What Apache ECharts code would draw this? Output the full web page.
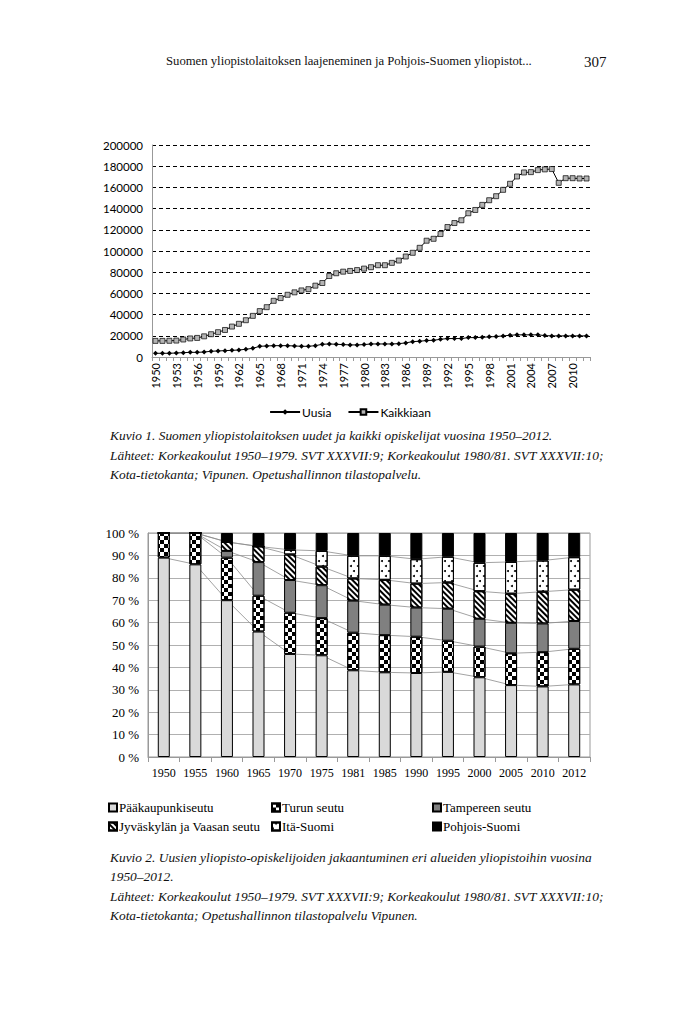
<!DOCTYPE html>
<html><head><meta charset="utf-8">
<script src="https://cdn.jsdelivr.net/npm/echarts@6/dist/echarts.min.js"></script>
<style>html,body{margin:0;padding:0;background:#fff}#c{width:700px;height:1014px}</style>
</head><body><div id="c"></div>
<script>
// ---- Kuvio 1 data ----
const years1 = ['1950','1951','1952','1953','1954','1955','1956','1957','1958','1959',
'1960','1961','1962','1963','1964','1965','1966','1967','1968','1969',
'1970','1971','1972','1973','1974','1975','1976','1977','1978','1979',
'1980','1981','1982','1983','1984','1985','1986','1987','1988','1989',
'1990','1991','1992','1993','1994','1995','1996','1997','1998','1999',
'2000','2001','2002','2003','2004','2005','2006','2007','2008','2009',
'2010','2011','2012'];
const uusia = [3500,3500,3500,3800,4100,4400,4400,4700,5400,5700,
6000,6300,6600,7300,8200,10100,10400,10700,10700,10700,
10400,10100,10100,10700,12000,12300,12000,11700,11400,11400,
11700,12300,12300,12300,12300,12600,13300,14500,14900,15500,
15800,16700,17400,17400,17400,18300,18300,18600,19000,19300,
19900,20500,20900,20900,20900,20900,20200,19900,19900,19900,
19900,19900,19900];
const kaikkiaan = [15200,15200,15300,15500,16500,17500,18000,19500,21500,23400,
25500,28700,31300,34700,38800,43300,47000,53000,55600,58700,
61000,62800,64000,67300,69800,76400,79000,80500,81200,82000,
83400,84700,86600,86600,88800,91000,94800,98300,103000,109700,
111500,116000,122600,126400,129000,135600,138700,143500,147900,151700,
157700,163400,170300,174100,174400,176300,177000,177300,164300,168700,
168700,168400,168400];

// ---- Kuvio 2 data (%) ----
const years2 = ['1950','1955','1960','1965','1970','1975','1981','1985','1990','1995','2000','2005','2010','2012'];
const paakaupunkiseutu = [89,86,70,56,46,45.4,38.7,37.8,37.5,38,35.6,32.1,31.5,32.4];
const turunSeutu      = [11,14,19,16,18.4,16.6,16.8,16.6,16.2,13.9,13.7,14.2,15.3,15.9];
const tampereenSeutu  = [0,0,3,15,14.6,14.7,14.3,13.6,13.0,14.3,12.4,13.6,12.8,12.4];
const jyvaskylaVaasa  = [0,0,4,7,11.4,8.3,9.9,11.1,10.7,11.7,12.3,13.0,14.2,14.0];
const itaSuomi        = [0,0,0,0,2.1,7,10.1,10.7,10.9,11.5,12.7,14.2,13.9,14.5];
const pohjoisSuomi    = [0,0,4,6,7.5,8,10.2,10.2,11.7,10.6,13.3,12.9,12.3,10.8];
const regionNames = ['Pääkaupunkiseutu','Turun seutu','Tampereen seutu','Jyväskylän ja Vaasan seutu','Itä-Suomi','Pohjois-Suomi'];
const yTicks2 = [0,10,20,30,40,50,60,70,80,90,100];

const SERIF = '"Liberation Serif", "Times New Roman", serif';
const SANS = 'Lato, "Open Sans", sans-serif';

const regionData = [paakaupunkiseutu, turunSeutu, tampereenSeutu, jyvaskylaVaasa, itaSuomi, pohjoisSuomi];
const regionStyles = [
  {color:'#d9d9d9'},
  {color:'#ffffff', decal:{symbol:'rect', symbolSize:1, color:'#000', dashArrayX:[[4,4],[0,4,4,0]], dashArrayY:[4,0]}},
  {color:'#808080'},
  {color:'#ffffff', decal:{symbol:'rect', symbolSize:1, color:'#000', rotation:Math.PI/4, dashArrayX:[1,0], dashArrayY:[1.5,1.5]}},
  {color:'#ffffff', decal:{symbol:'circle', symbolSize:1, color:'#000', dashArrayX:[[1.2,4.8],[0,3,1.2,1.8]], dashArrayY:[1.2,3]}},
  {color:'#000000'}
];

const series = [];
series.push({
  name:'Uusia', type:'line', xAxisIndex:0, yAxisIndex:0, data:uusia,
  symbol:'diamond', symbolSize:5, showAllSymbol:true,
  lineStyle:{color:'#000', width:1}, itemStyle:{color:'#000'}, silent:true
});
series.push({
  name:'Kaikkiaan', type:'line', xAxisIndex:0, yAxisIndex:0, data:kaikkiaan,
  symbol:'rect', symbolSize:5, showAllSymbol:true,
  lineStyle:{color:'#000', width:1}, itemStyle:{color:'#b4b4b4', borderColor:'#000', borderWidth:0.7}, silent:true
});
regionData.forEach((d,i)=>{
  series.push({
    name:regionNames[i], type:'bar', xAxisIndex:1, yAxisIndex:1, stack:'total', data:d,
    barWidth:12, z:3, silent:true,
    itemStyle:Object.assign({borderColor:'#000', borderWidth:1}, regionStyles[i])
  });
});
// Excel-style series lines between bars (cumulative boundaries)
for (let i=0;i<5;i++){
  series.push({
    name:'sarjaviiva'+i, type:'line', xAxisIndex:1, yAxisIndex:1, stack:'lines', data:regionData[i],
    symbol:'none', z:1, silent:true, lineStyle:{color:'#8c8c8c', width:0.8}
  });
}

const CAP = 'italic 13.4px '+SERIF;
const texts = [
  {t:'Suomen yliopistolaitoksen laajeneminen ja Pohjois-Suomen yliopistot...', x:166, y:62, f:'12.7px '+SERIF},
  {t:'307', x:584, y:62, f:'15px '+SERIF},
  {t:'Kuvio 1. Suomen yliopistolaitoksen uudet ja kaikki opiskelijat vuosina 1950–2012.', x:110, y:437, f:CAP},
  {t:'Lähteet: Korkeakoulut 1950–1979. SVT XXXVII:9; Korkeakoulut 1980/81. SVT XXXVII:10;', x:110, y:457, f:CAP},
  {t:'Kota-tietokanta; Vipunen. Opetushallinnon tilastopalvelu.', x:110, y:476, f:CAP},
  {t:'Kuvio 2. Uusien yliopisto-opiskelijoiden jakaantuminen eri alueiden yliopistoihin vuosina', x:110, y:859, f:CAP},
  {t:'1950–2012.', x:110, y:878, f:CAP},
  {t:'Lähteet: Korkeakoulut 1950–1979. SVT XXXVII:9; Korkeakoulut 1980/81. SVT XXXVII:10;', x:110, y:898, f:CAP},
  {t:'Kota-tietokanta; Opetushallinnon tilastopalvelu Vipunen.', x:110, y:917, f:CAP}
];

const legendBase = {
  orient:'vertical', itemWidth:8, itemHeight:8, itemGap:6, icon:'rect',
  textStyle:{fontFamily:SERIF, fontSize:13, color:'#000', padding:[0,0,0,-3]}, selectedMode:false
};

const option = {
  animation:false,
  backgroundColor:'#fff',
  graphic: texts.map(o=>({type:'text', left:o.x, top:o.y-8, style:{text:o.t, font:o.f, fill:'#111'}})),
  grid:[
    {left:152, right:110, top:145, height:212},
    {left:148, right:110, top:533, height:224, show:true, borderColor:'#999', borderWidth:1}
  ],
  legend:[
    {data:['Uusia','Kaikkiaan'], top:401, left:'center', itemWidth:30, itemHeight:7, itemGap:16, selectedMode:false,
     textStyle:{fontFamily:SANS, fontSize:12, color:'#000', padding:[0,0,0,-3]}},
    Object.assign({}, legendBase, {data:['Pääkaupunkiseutu','Jyväskylän ja Vaasan seutu'], left:103, top:796}),
    Object.assign({}, legendBase, {data:['Turun seutu','Itä-Suomi'], left:266, top:796}),
    Object.assign({}, legendBase, {data:['Tampereen seutu','Pohjois-Suomi'], left:427, top:796})
  ],
  xAxis:[
    {type:'category', gridIndex:0, data:years1, boundaryGap:true,
     axisLine:{lineStyle:{color:'#999'}},
     axisTick:{show:true, interval:0, length:4, lineStyle:{color:'#999'}},
     axisLabel:{interval:2, rotate:90, fontFamily:SANS, fontSize:11, color:'#000', margin:6}},
    {type:'category', gridIndex:1, data:years2, boundaryGap:true,
     axisLine:{lineStyle:{color:'#999'}},
     axisTick:{show:true, length:5, lineStyle:{color:'#999'}},
     axisLabel:{fontFamily:SERIF, fontSize:12, color:'#000', margin:10}}
  ],
  yAxis:[
    {type:'value', gridIndex:0, min:0, max:200000, interval:20000,
     axisLine:{show:true, lineStyle:{color:'#999'}}, axisTick:{show:false},
     splitLine:{lineStyle:{color:'#000', type:[4,3], width:1}},
     axisLabel:{fontFamily:SANS, fontSize:11.5, color:'#000', margin:9, formatter:v=>String(v)}},
    {type:'value', gridIndex:1, min:yTicks2[0], max:yTicks2[yTicks2.length-1], interval:10,
     axisLine:{show:true, lineStyle:{color:'#999'}}, axisTick:{show:false},
     splitLine:{lineStyle:{color:'#b0b0b0', width:1}},
     axisLabel:{fontFamily:SERIF, fontSize:13, color:'#000', margin:9, formatter:'{value} %'}}
  ],
  series: series
};

const chart = echarts.init(document.getElementById('c'), null, {renderer:'svg', width:700, height:1014});
chart.setOption(option);
</script>
</body></html>
